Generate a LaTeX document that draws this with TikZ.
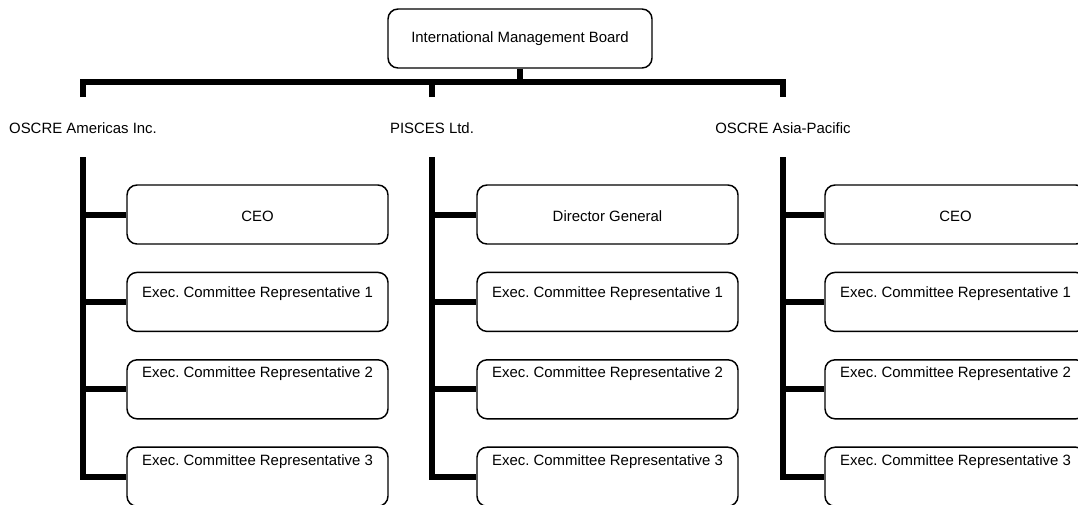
\documentclass[tikz,border=0pt]{standalone}
\usepackage{fontspec}
\setmainfont{Liberation Sans}
\usetikzlibrary{positioning}
\tikzset{
  box/.style={draw, rounded corners=7.5pt, line width=1.1pt, align=center, minimum width=195.75pt, minimum height=44.25pt, inner sep=3pt, font=\fontsize{11.2}{13.4}\selectfont},
  topbox/.style={box, minimum width=198pt, minimum height=44.25pt},
  headbox/.style={box, text height=11pt, text depth=0pt},
  repbox/.style={box, text height=8pt, text depth=15pt},
  repboxhigh/.style={box, text height=8pt, text depth=25pt},
  unit/.style={inner sep=0pt, font=\fontsize{11.2}{13.4}\selectfont},
  link/.style={line width=4.5pt}
}

\begin{document}
\begin{tikzpicture}[x=0.75pt, y=-0.75pt, node distance=20.2pt]
  \useasboundingbox (0,0) rectangle (1078,504);
  \node[topbox] (imb) at (520,38.5) {International Management Board};
  % organisations
  \node[unit] (am) at (83,128) {OSCRE Americas Inc.};
  \node[unit] (pi) at (432,128) {PISCES Ltd.};
  \node[unit] (ap) at (783,128) {OSCRE Asia-Pacific};
  \coordinate (bar) at (520,82);
  \coordinate (amup) at (83,97);
  \coordinate (piup) at (432,97);
  \coordinate (apup) at (783,97);
  \coordinate (amdown) at (83,157);
  \coordinate (pidown) at (432,157);
  \coordinate (apdown) at (783,157);
  % Americas
  \node[headbox] (amceo) at (257.5,214.5) {CEO};
  \node[repbox, below=of amceo] (amrep1) {Exec.\ Committee Representative 1};
  \node[repboxhigh, below=of amrep1] (amrep2) {Exec.\ Committee Representative 2};
  \node[repboxhigh, below=of amrep2] (amrep3) {Exec.\ Committee Representative 3};
  % PISCES
  \node[headbox] (pidg) at (607.5,214.5) {Director General};
  \node[repbox, below=of pidg] (pirep1) {Exec.\ Committee Representative 1};
  \node[repboxhigh, below=of pirep1] (pirep2) {Exec.\ Committee Representative 2};
  \node[repboxhigh, below=of pirep2] (pirep3) {Exec.\ Committee Representative 3};
  % Asia-Pacific
  \node[headbox] (apceo) at (955.5,214.5) {CEO};
  \node[repbox, below=of apceo] (aprep1) {Exec.\ Committee Representative 1};
  \node[repboxhigh, below=of aprep1] (aprep2) {Exec.\ Committee Representative 2};
  \node[repboxhigh, below=of aprep2] (aprep3) {Exec.\ Committee Representative 3};
  % lines
  \draw[link] (imb.south) -- (imb.south |- bar);
  \draw[link] (amup) |- (bar) -| (apup);
  \draw[link] (piup) -- (piup |- bar);
  \draw[link] (amdown) |- (amrep3.west);
  \draw[link] (amdown |- amceo.west) -- (amceo.west);
  \draw[link] (amdown |- amrep1.west) -- (amrep1.west);
  \draw[link] (amdown |- amrep2.west) -- (amrep2.west);
  \draw[link] (pidown) |- (pirep3.west);
  \draw[link] (pidown |- pidg.west) -- (pidg.west);
  \draw[link] (pidown |- pirep1.west) -- (pirep1.west);
  \draw[link] (pidown |- pirep2.west) -- (pirep2.west);
  \draw[link] (apdown) |- (aprep3.west);
  \draw[link] (apdown |- apceo.west) -- (apceo.west);
  \draw[link] (apdown |- aprep1.west) -- (aprep1.west);
  \draw[link] (apdown |- aprep2.west) -- (aprep2.west);
\end{tikzpicture}
\end{document}
